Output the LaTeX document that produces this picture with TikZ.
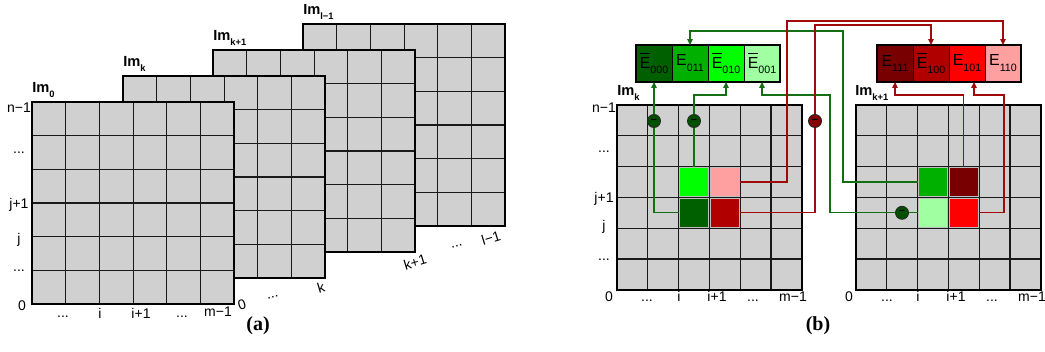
\documentclass[tikz,border=0pt]{standalone}
\usepackage{fontspec}
\setmainfont{Liberation Sans}
\newfontfamily\capfont{Liberation Serif}
\usetikzlibrary{arrows.meta, positioning}
\definecolor{CellGray}{RGB}{208,208,208}
\definecolor{GreenD}{RGB}{0,96,0}
\definecolor{GreenM}{RGB}{0,176,0}
\definecolor{GreenB}{RGB}{0,255,0}
\definecolor{GreenL}{RGB}{160,255,160}
\definecolor{RedD}{RGB}{120,0,0}
\definecolor{RedM}{RGB}{176,0,0}
\definecolor{RedB}{RGB}{255,0,0}
\definecolor{RedL}{RGB}{255,160,160}
\definecolor{WireGreen}{RGB}{20,110,20}
\definecolor{WireRed}{RGB}{160,10,10}
\definecolor{SignGreen}{RGB}{0,80,0}
\definecolor{SignRed}{RGB}{130,0,0}

% image label and E labels
\newcommand{\imlabel}[1]{Im\raisebox{-0.6ex}{\fontsize{7}{8}\selectfont\bfseries #1}}
\newcommand{\Elab}[1]{E\raisebox{-0.7ex}{\fontsize{8}{9}\selectfont #1}}
\newcommand{\Ebar}[1]{\rlap{\rule[10.6pt]{7.6pt}{0.7pt}}E\raisebox{-0.7ex}{\fontsize{8}{9}\selectfont #1}}
\newcommand{\ddd}{...}

% 6x6 pixel grid, top left corner #1,#2, cell size #3
\newcommand{\pixgrid}[3]{%
  \begin{scope}[shift={(#1,#2)}]
    \fill[layerfill] (0,0) rectangle (6*#3,6*#3);
    \foreach \n in {1,...,5}{
      \draw[gridln] (\n*#3,0) -- (\n*#3,6*#3);
      \draw[gridln] (0,\n*#3) -- (6*#3,\n*#3);
    }
    \draw[gridframe] (0,0) rectangle (6*#3,6*#3);
  \end{scope}}

\begin{document}
\begin{tikzpicture}[
    x=0.75pt, y=-0.75pt,
    layerfill/.style={fill=CellGray},
    gridln/.style={draw=black!90, line width=0.9pt},
    gridframe/.style={draw=black, line width=1.6pt},
    axlab/.style={font=\fontsize{10.5}{12}\selectfont, inner sep=0pt, anchor=base},
    imlab/.style={font=\fontsize{11}{13}\selectfont\bfseries, inner sep=0pt, anchor=base west},
    rotlab/.style={font=\fontsize{10.5}{12}\selectfont, inner sep=0pt, rotate=17},
    ecell/.style={rectangle, draw=black, line width=0.6pt, minimum width=27pt, minimum height=27.5pt, inner sep=0pt, outer sep=0pt, font=\fontsize{12}{14}\selectfont},
    boxframe/.style={draw=black, line width=1.5pt},
    hcell/.style={rectangle, draw=white!75!black, line width=0.4pt, minimum size=21.7pt, inner sep=0pt},
    negnode/.style={circle, draw=black!85, line width=0.6pt, minimum size=9.8pt, inner sep=0pt, font=\fontsize{8}{8}\selectfont\bfseries},
    gwire/.style={draw=WireGreen, line width=0.9pt},
    rwire/.style={draw=WireRed, line width=0.9pt},
    wiretip/.style={-{Triangle[length=4.5pt,width=4pt]}},
    capt/.style={font=\capfont\bfseries\fontsize{15}{17}\selectfont, inner sep=0pt}
]
    \useasboundingbox (0,0) rectangle (1045,352);

    % ---------------- (a) stack of images
    \foreach \lx/\ly in {303/24, 213/50, 123/76, 32/102}
      \pixgrid{\lx}{\ly}{33.7};

    \node[imlab] (im0) at (32,93) {\imlabel{0}};
    \node[imlab] (imk) at (123,67) {\imlabel{k}};
    \node[imlab] (imk1) at (213,41) {\imlabel{k+1}};
    \node[imlab] (iml) at (303,15) {\imlabel{l−1}};

    \foreach \ly/\txt [count=\i] in {113/n−1, 154/\ddd, 209/j+1, 244/j, 272/\ddd}
      \node[axlab] (ya\i) at (19,\ly) {\txt};
    \foreach \lx/\ly/\txt [count=\i] in {22/311/0, 63/318/\ddd, 100/319/i, 141/319/i+1, 182/318/\ddd, 218/317/m−1}
      \node[axlab] (xa\i) at (\lx,\ly) {\txt};

    % stacking axis
    \node[rotlab] (za1) at (242,305) {0};
    \node[rotlab] (za2) at (273,297) {\ddd};
    \node[rotlab] (za3) at (321,288) {k};
    \node[rotlab] (za4) at (415,262) {k+1};
    \node[rotlab] (za5) at (457,246) {\ddd};
    \node[rotlab] (za6) at (491,238) {l−1};

    \node[capt] (capa) at (258,326) {(a)};

    % ---------------- (b) two images and the E vectors
    \pixgrid{617}{105}{30.8}
    \pixgrid{856}{105}{30.8}

    \node[imlab] (bimk) at (617,96) {\imlabel{k}};
    \node[imlab] (bimk1) at (855,96) {\imlabel{k+1}};

    \foreach \ly/\txt [count=\i] in {113/n−1, 153/\ddd, 203/j+1, 231/j, 261/\ddd}
      \node[axlab] (yb\i) at (604,\ly) {\txt};
    \foreach \lx/\txt [count=\i] in {609/0, 647/\ddd, 679/i, 717/i+1, 753/\ddd, 793/m−1}
      \node[axlab] (xb\i) at (\lx,302) {\txt};
    \foreach \lx/\txt [count=\i] in {849/0, 887/\ddd, 918/i, 956/i+1, 992/\ddd, 1032/m−1}
      \node[axlab] (xc\i) at (\lx,302) {\txt};

    % marked pixels
    \node[hcell, fill=GreenB] (kBG) at (694,182) {};
    \node[hcell, fill=RedL] (kPK) at (724.8,182) {};
    \node[hcell, fill=GreenD] (kDG) at (694,212.8) {};
    \node[hcell, fill=RedM] (kDR) at (724.8,212.8) {};
    \node[hcell, fill=GreenM] (k1G) at (933,182) {};
    \node[hcell, fill=RedD] (k1MR) at (963.8,182) {};
    \node[hcell, fill=GreenL] (k1LG) at (933,212.8) {};
    \node[hcell, fill=RedB] (k1R) at (963.8,212.8) {};

    % E vectors
    \node[ecell, fill=GreenD] (E000) at (654,63.5) {\Ebar{000}};
    \node[ecell, fill=GreenM, right=0pt of E000] (E011) {\Elab{011}};
    \node[ecell, fill=GreenB, right=0pt of E011] (E010) {\Ebar{010}};
    \node[ecell, fill=GreenL, right=0pt of E010] (E001) {\Ebar{001}};
    \draw[boxframe] (E000.north west) rectangle (E001.south east);

    \node[ecell, fill=RedD] (E111) at (895,63.5) {\Elab{111}};
    \node[ecell, fill=RedM, right=0pt of E111] (E100) {\Ebar{100}};
    \node[ecell, fill=RedB, right=0pt of E100] (E101) {\Elab{101}};
    \node[ecell, fill=RedL, right=0pt of E101] (E110) {\Elab{110}};
    \draw[boxframe] (E111.north west) rectangle (E110.south east);

    % negation marks
    \node[negnode, fill=SignGreen] (m1) at (654,121) {−};
    \node[negnode, fill=SignGreen] (m2) at (694,121) {−};
    \node[negnode, fill=SignGreen] (m3) at (902,212.8) {−};
    \node[negnode, fill=SignRed] (m4) at (815,121) {−};

    % bend points
    \coordinate (b2) at (726,95);
    \coordinate (b3) at (830,95);
    \coordinate (b4) at (843,31);
    \coordinate (b5) at (787,21);
    \coordinate (b6) at (815,25);
    \coordinate (b7) at (963.8,95);
    \coordinate (b8) at (1004,95);

    % green wires
    \draw[gwire] (kDG.west) -| (m1.south);
    \draw[gwire, wiretip] (m1.north) -- (E000.south);
    \draw[gwire] (kBG.north) -- (m2.south);
    \draw[gwire, wiretip] (m2.north) |- (b2) -- (E010.south);
    \draw[gwire] (k1LG.west) -- (m3.east);
    \draw[gwire, wiretip] (m3.west) -| (b3) -| (E001.south);
    \draw[gwire, wiretip] (k1G.west) -| (b4) -| (E011.north);

    % red wires
    \draw[rwire, wiretip] (kPK.east) -| (b5) -| (E110.north);
    \draw[rwire] (kDR.east) -| (m4.south);
    \draw[rwire, wiretip] (m4.north) -- (b6) -| (E100.north);
    \draw[rwire, wiretip] (k1MR.north) -- (b7) -| (E111.south);
    \draw[rwire, wiretip] (k1R.east) -| (b8) -| ([xshift=5.25pt]E101.south);

    \node[capt] (capb) at (818,326) {(b)};
\end{tikzpicture}
\end{document}
